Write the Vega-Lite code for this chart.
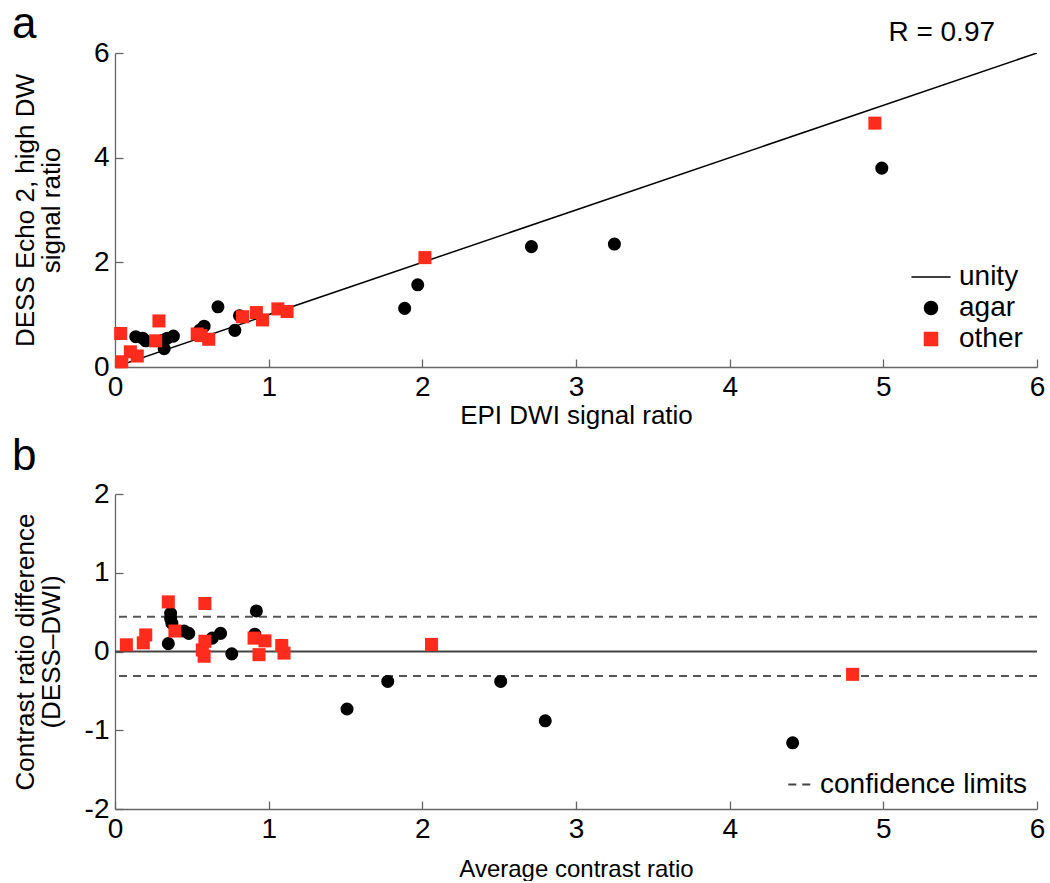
{
  "$schema": "https://vega.github.io/schema/vega-lite/v6.json",
  "background": "white",
  "padding": {"left": 12, "top": 3, "right": 0, "bottom": 0},
  "spacing": 7,
  "datasets": {
    "unity": [{"x": 0, "y": 0}, {"x": 6, "y": 6}],
    "panelA": [
      {"x": 0.135, "y": 0.58, "type": "agar"},
      {"x": 0.18, "y": 0.55, "type": "agar"},
      {"x": 0.2, "y": 0.5, "type": "agar"},
      {"x": 0.31, "y": 0.51, "type": "agar"},
      {"x": 0.32, "y": 0.35, "type": "agar"},
      {"x": 0.34, "y": 0.55, "type": "agar"},
      {"x": 0.38, "y": 0.59, "type": "agar"},
      {"x": 0.55, "y": 0.7, "type": "agar"},
      {"x": 0.58, "y": 0.78, "type": "agar"},
      {"x": 0.67, "y": 1.15, "type": "agar"},
      {"x": 0.78, "y": 0.7, "type": "agar"},
      {"x": 0.81, "y": 0.98, "type": "agar"},
      {"x": 1.885, "y": 1.12, "type": "agar"},
      {"x": 1.97, "y": 1.57, "type": "agar"},
      {"x": 2.71, "y": 2.3, "type": "agar"},
      {"x": 3.25, "y": 2.35, "type": "agar"},
      {"x": 4.99, "y": 3.8, "type": "agar"},
      {"x": 0.037, "y": 0.64, "type": "other"},
      {"x": 0.044, "y": 0.1, "type": "other"},
      {"x": 0.1, "y": 0.29, "type": "other"},
      {"x": 0.145, "y": 0.21, "type": "other"},
      {"x": 0.265, "y": 0.5, "type": "other"},
      {"x": 0.286, "y": 0.88, "type": "other"},
      {"x": 0.535, "y": 0.63, "type": "other"},
      {"x": 0.56, "y": 0.6, "type": "other"},
      {"x": 0.61, "y": 0.53, "type": "other"},
      {"x": 0.83, "y": 0.96, "type": "other"},
      {"x": 0.92, "y": 1.04, "type": "other"},
      {"x": 0.96, "y": 0.9, "type": "other"},
      {"x": 1.06, "y": 1.11, "type": "other"},
      {"x": 1.12, "y": 1.06, "type": "other"},
      {"x": 2.017, "y": 2.09, "type": "other"},
      {"x": 4.945, "y": 4.66, "type": "other"}
    ],
    "panelB": [
      {"x": 0.347, "y": 0.1, "type": "agar"},
      {"x": 0.362, "y": 0.485, "type": "agar"},
      {"x": 0.362, "y": 0.42, "type": "agar"},
      {"x": 0.37, "y": 0.36, "type": "agar"},
      {"x": 0.45, "y": 0.26, "type": "agar"},
      {"x": 0.48, "y": 0.23, "type": "agar"},
      {"x": 0.633, "y": 0.17, "type": "agar"},
      {"x": 0.687, "y": 0.23, "type": "agar"},
      {"x": 0.76, "y": -0.03, "type": "agar"},
      {"x": 0.92, "y": 0.515, "type": "agar"},
      {"x": 0.91, "y": 0.22, "type": "agar"},
      {"x": 1.51, "y": -0.73, "type": "agar"},
      {"x": 1.775, "y": -0.38, "type": "agar"},
      {"x": 2.51, "y": -0.38, "type": "agar"},
      {"x": 2.8, "y": -0.88, "type": "agar"},
      {"x": 4.41, "y": -1.16, "type": "agar"},
      {"x": 0.074, "y": 0.085, "type": "other"},
      {"x": 0.184, "y": 0.11, "type": "other"},
      {"x": 0.2, "y": 0.21, "type": "other"},
      {"x": 0.347, "y": 0.63, "type": "other"},
      {"x": 0.39, "y": 0.26, "type": "other"},
      {"x": 0.585, "y": 0.61, "type": "other"},
      {"x": 0.585, "y": 0.13, "type": "other"},
      {"x": 0.568, "y": 0.02, "type": "other"},
      {"x": 0.58, "y": -0.06, "type": "other"},
      {"x": 0.905, "y": 0.17, "type": "other"},
      {"x": 0.976, "y": 0.135, "type": "other"},
      {"x": 0.937, "y": -0.04, "type": "other"},
      {"x": 1.085, "y": 0.076, "type": "other"},
      {"x": 1.1, "y": -0.02, "type": "other"},
      {"x": 2.06, "y": 0.09, "type": "other"},
      {"x": 4.8, "y": -0.29, "type": "other"}
    ],
    "limits": [
      {"limit": 0.44, "label": "confidence limits"},
      {"limit": -0.31, "label": "confidence limits"}
    ]
  },
  "resolve": {
    "scale": {"color": "independent", "shape": "independent", "stroke": "independent", "strokeDash": "independent"},
    "legend": {"color": "independent", "shape": "independent", "stroke": "independent", "strokeDash": "independent"}
  },
  "vconcat": [
    {
      "width": 922,
      "height": 314,
      "title": {"text": "a", "dx": -103, "offset": -28},
      "layer": [
        {
          "data": {"name": "unity"},
          "mark": {"type": "line", "color": "black", "strokeWidth": 1.5, "clip": true},
          "encoding": {
            "x": {"field": "x", "type": "quantitative", "scale": {"domain": [0, 6], "nice": false},
                  "axis": {"title": "EPI DWI signal ratio", "titlePadding": 1, "values": [0, 1, 2, 3, 4, 5, 6]}},
            "y": {"field": "y", "type": "quantitative", "scale": {"domain": [0, 6], "nice": false},
                  "axis": {"title": ["DESS Echo 2, high DW", "signal ratio"], "titleX": -77, "titleLineHeight": 26, "values": [0, 2, 4, 6]}}
          }
        },
        {
          "data": {"name": "panelA"},
          "mark": {"type": "point", "filled": true, "opacity": 1, "size": 170, "strokeWidth": 0},
          "encoding": {
            "x": {"field": "x", "type": "quantitative"},
            "y": {"field": "y", "type": "quantitative"},
            "color": {"field": "type", "type": "nominal",
                      "scale": {"domain": ["unity", "agar", "other"], "range": ["black", "black", "#ff2b1c"]},
                      "legend": {"title": null, "orient": "bottom-right", "offset": 14, "labelFontSize": 28, "symbolSize": 170, "rowPadding": 3, "labelOffset": 14, "symbolStrokeWidth": 1.5}},
            "stroke": {"field": "type", "type": "nominal",
                      "scale": {"domain": ["unity", "agar", "other"], "range": ["black", "black", "#ff2b1c"]},
                      "legend": {"title": null, "orient": "bottom-right", "offset": 14, "labelFontSize": 28, "symbolSize": 170, "rowPadding": 3, "labelOffset": 14, "symbolStrokeWidth": 1.5}},
            "shape": {"field": "type", "type": "nominal",
                      "scale": {"domain": ["unity", "agar", "other"], "range": ["M-3,0L3,0", "circle", "square"]},
                      "legend": {"title": null, "orient": "bottom-right", "offset": 14, "labelFontSize": 28, "symbolSize": 170, "rowPadding": 3, "labelOffset": 14, "symbolStrokeWidth": 1.5}}
          }
        },
        {
          "data": {"values": [{"label": "R = 0.97"}]},
          "mark": {"type": "text", "fontSize": 28, "color": "black", "clip": false},
          "encoding": {
            "x": {"datum": 5.38},
            "y": {"datum": 6.38},
            "text": {"field": "label"}
          }
        }
      ]
    },
    {
      "width": 922,
      "height": 315,
      "title": {"text": "b", "dx": -103, "offset": 1},
      "layer": [
        {
          "data": {"values": [{"zero": 0}]},
          "mark": {"type": "rule", "color": "#444", "strokeWidth": 2},
          "encoding": {
            "y": {"field": "zero", "type": "quantitative", "scale": {"domain": [-2, 2], "nice": false},
                  "axis": {"title": ["Contrast ratio difference", "(DESS–DWI)"], "titleX": -77, "titleLineHeight": 26, "values": [-2, -1, 0, 1, 2]}}
          }
        },
        {
          "data": {"name": "limits"},
          "mark": {"type": "rule", "color": "#555", "strokeWidth": 2},
          "encoding": {
            "y": {"field": "limit", "type": "quantitative"},
            "strokeDash": {"field": "label", "type": "nominal", "scale": {"range": [[8, 6]]},
                           "legend": {"title": null, "orient": "bottom-right", "offset": 10, "labelFontSize": 28, "labelLimit": 400, "symbolType": "stroke", "symbolSize": 700, "symbolStrokeColor": "#444", "symbolStrokeWidth": 2, "labelOffset": 4}}
          }
        },
        {
          "data": {"name": "panelB"},
          "mark": {"type": "point", "filled": true, "opacity": 1, "size": 170, "strokeWidth": 0},
          "encoding": {
            "x": {"field": "x", "type": "quantitative", "scale": {"domain": [0, 6], "nice": false},
                  "axis": {"title": "Average contrast ratio", "titleFontSize": 24, "titlePadding": 14, "values": [0, 1, 2, 3, 4, 5, 6]}},
            "y": {"field": "y", "type": "quantitative"},
            "color": {"field": "type", "type": "nominal",
                      "scale": {"domain": ["agar", "other"], "range": ["black", "#ff2b1c"]}, "legend": null},
            "shape": {"field": "type", "type": "nominal",
                      "scale": {"domain": ["agar", "other"], "range": ["circle", "square"]}, "legend": null}
          }
        }
      ]
    }
  ],
  "config": {
    "font": "Liberation Sans",
    "view": {"stroke": null},
    "title": {"fontSize": 44, "fontWeight": "normal", "anchor": "start", "frame": "group", "color": "black"},
    "axis": {
      "grid": false,
      "domainColor": "#666",
      "domainWidth": 1.3,
      "tickColor": "#666",
      "tickWidth": 1.3,
      "tickSize": -8,
      "labelPadding": 14,
      "labelFontSize": 28,
      "labelColor": "black",
      "labelExpr": "'' + datum.value",
      "titleFontSize": 26,
      "titleFontWeight": "normal",
      "titleColor": "black",
      "titlePadding": 2,
      "labelFlush": false,
      "labelOverlap": false
    },
    "legend": {"labelColor": "black", "labelFont": "Liberation Sans"}
  }
}
